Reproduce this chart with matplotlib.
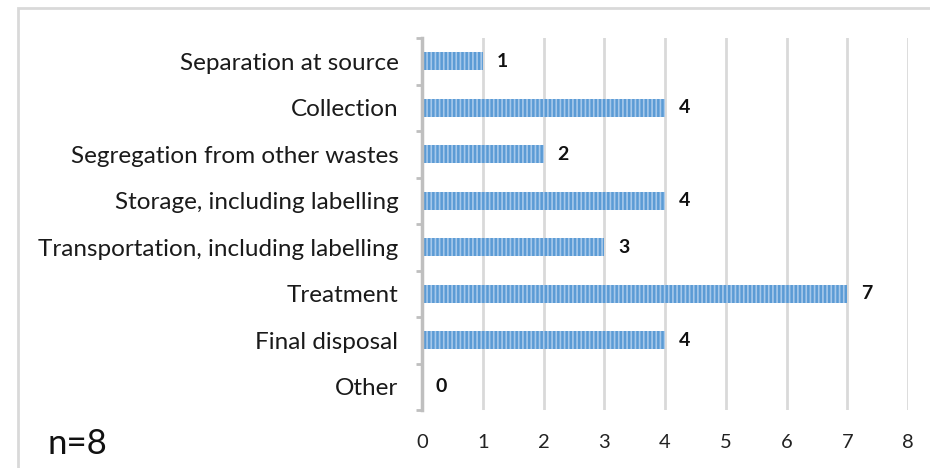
import matplotlib.pyplot as plt
from matplotlib.patches import Rectangle
import numpy as np

plt.rcParams['hatch.linewidth'] = 1.2

categories = ['Separation at source', 'Collection', 'Segregation from other wastes',
              'Storage, including labelling', 'Transportation, including labelling',
              'Treatment', 'Final disposal', 'Other']
values = [1, 4, 2, 4, 3, 7, 4, 0]
x_ticks = [0, 1, 2, 3, 4, 5, 6, 7, 8]
sample_note = 'n=8'

font = 'Lato'

fig = plt.figure(figsize=(9.3, 4.68), dpi=100)
ax = fig.add_axes([422 / 930, 1 - 410 / 468, 486 / 930, 372 / 468])

# outer frame like the pasted Excel chart
fig.patches.append(Rectangle((18 / 930, -0.1), 1.2, 1 - 8 / 468 + 0.1,
                             transform=fig.transFigure, fill=False,
                             edgecolor='#D9D9D9', linewidth=2))

y = np.arange(len(categories))
ax.barh(y, values, height=0.39, color='#5B9BD5', edgecolor='#A6C8EA',
        hatch='||||', linewidth=0, zorder=3)

for yi, v in zip(y, values):
    ax.annotate(str(v), (v, yi), xytext=(10, 0), textcoords='offset points',
                va='center', ha='left', fontsize=14, fontweight='bold',
                family=font, color='#111111')

ax.set_ylim(len(categories) - 0.5, -0.5)
ax.set_xlim(0, 8)
ax.set_yticks(y)
ax.set_yticklabels(categories, fontsize=17.5, family=font, color='#1a1a1a')
ax.set_yticks(np.arange(len(categories) + 1) - 0.5, minor=True)
ax.tick_params(axis='y', which='major', length=0, pad=17)
ax.tick_params(axis='y', which='minor', length=4, width=2, color='#BFBFBF')

ax.set_xticks(x_ticks)
ax.set_xticklabels([str(t) for t in x_ticks], fontsize=14.5, family=font, color='#222222')
ax.tick_params(axis='x', length=0, pad=17)

ax.grid(axis='x', color='#D9D9D9', linewidth=2, zorder=0)
for s in ['top', 'right', 'bottom']:
    ax.spines[s].set_visible(False)
ax.spines['left'].set_color('#BFBFBF')
ax.spines['left'].set_linewidth(2.5)
ax.spines['left'].set_zorder(5)

fig.text(47 / 930, 1 - 444 / 468, sample_note, fontsize=25, family=font,
         va='center', ha='left', color='#111111')

fig.savefig('out.png', dpi=100)
